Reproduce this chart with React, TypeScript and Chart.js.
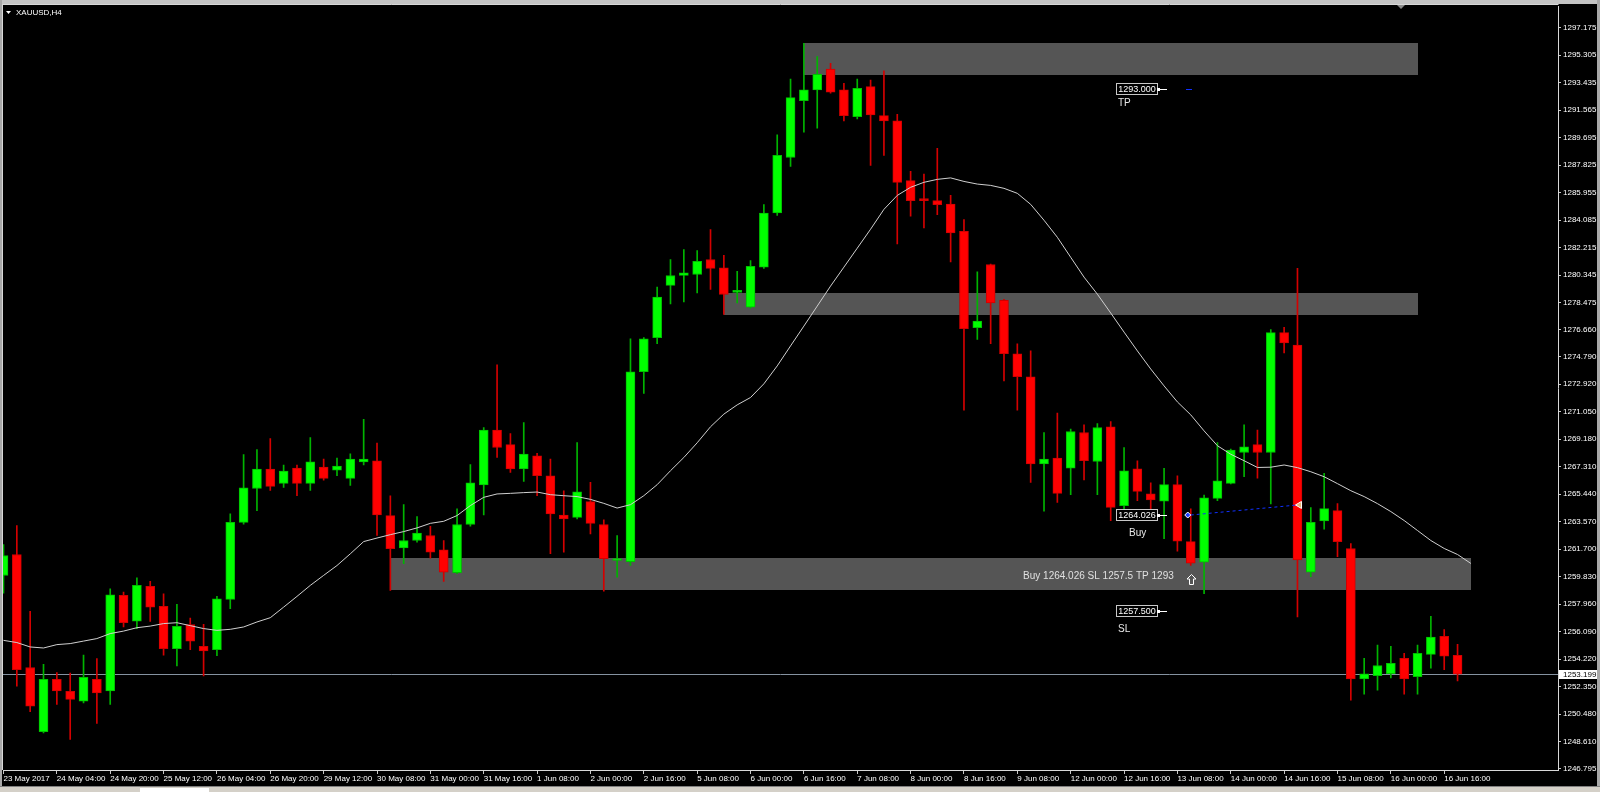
import React, { useEffect, useRef } from "react";
import { Chart, registerables } from "chart.js";

Chart.register(...registerables);

const TITLE = "XAUUSD,H4";

const OPEN = [1259.91,1261.34,1253.65,1249.28,1252.84,1252.04,1251.36,1252.84,1252.06,1258.56,
1256.81,1259.17,1257.81,1254.94,1256.57,1255.10,1254.87,1258.29,1263.53,1265.83,
1267.15,1266.18,1267.22,1266.18,1267.29,1267.08,1266.52,1267.64,1267.72,1263.99,
1261.79,1262.29,1262.63,1261.66,1260.10,1263.38,1266.07,1269.80,1268.81,1267.16,
1268.06,1266.70,1264.03,1263.87,1264.94,1263.38,1260.93,1260.86,1273.78,1276.09,
1279.65,1280.32,1280.39,1281.41,1280.84,1279.17,1278.17,1280.89,1284.57,1288.35,
1292.22,1292.95,1294.37,1292.95,1291.13,1293.17,1291.20,1290.84,1286.77,1285.48,
1285.41,1285.18,1283.33,1276.77,1281.07,1278.63,1275.00,1273.42,1267.50,1267.90,
1267.22,1269.64,1267.67,1270.03,1264.67,1267.16,1265.46,1264.96,1266.09,1262.22,
1260.82,1265.16,1266.18,1268.28,1268.81,1268.28,1276.43,1275.59,1260.14,1263.62,
1264.33,1261.75,1252.88,1253.09,1253.23,1254.28,1253.03,1254.55,1255.78,1254.48];

const HIGH = [1262.02,1263.31,1257.47,1253.87,1253.31,1253.28,1254.49,1254.26,1259.01,1258.78,
1259.76,1259.51,1258.67,1257.95,1257.02,1256.59,1258.49,1264.10,1268.13,1268.47,
1269.23,1267.43,1267.43,1269.30,1267.84,1267.90,1268.19,1270.54,1268.92,1265.34,
1264.73,1263.92,1263.26,1262.29,1264.44,1267.45,1269.98,1274.24,1269.57,1270.32,
1268.22,1267.83,1265.68,1268.96,1266.25,1263.70,1262.63,1276.02,1276.10,1279.53,
1281.41,1282.09,1282.02,1283.45,1281.70,1280.61,1281.34,1285.14,1289.89,1293.69,
1296.11,1295.21,1294.75,1293.39,1293.69,1293.62,1294.24,1291.29,1287.40,1287.22,
1288.98,1285.77,1284.12,1280.57,1281.10,1278.70,1275.68,1275.19,1269.64,1270.96,
1269.87,1270.16,1270.25,1270.39,1268.62,1267.72,1266.21,1267.20,1266.70,1264.44,
1265.39,1268.96,1268.52,1270.16,1269.80,1276.64,1276.80,1280.80,1264.53,1266.87,
1264.80,1262.09,1254.28,1255.17,1255.10,1254.62,1255.17,1257.13,1256.23,1255.23];

const LOW = [1258.71,1252.38,1250.64,1249.20,1251.14,1248.76,1251.24,1249.85,1251.14,1256.41,
1256.30,1256.79,1254.49,1253.76,1254.87,1253.08,1254.45,1257.65,1263.40,1264.33,
1265.70,1265.90,1265.35,1265.70,1266.39,1266.70,1266.04,1267.43,1262.63,1258.90,
1260.71,1262.18,1261.09,1259.51,1260.03,1263.26,1264.03,1267.94,1266.93,1266.31,
1265.34,1261.39,1261.50,1263.76,1262.74,1258.85,1259.80,1260.59,1272.29,1275.68,
1278.39,1278.53,1279.14,1279.37,1277.68,1278.46,1278.10,1280.80,1284.41,1287.74,
1290.07,1290.34,1292.72,1290.84,1290.98,1287.81,1288.49,1282.47,1284.35,1283.55,
1284.46,1281.25,1271.16,1275.98,1275.68,1273.15,1271.16,1266.25,1264.28,1264.89,
1265.41,1266.41,1265.41,1263.65,1263.65,1265.00,1264.33,1262.41,1261.56,1260.59,
1258.67,1265.00,1266.14,1266.63,1266.54,1264.78,1275.05,1257.09,1259.84,1263.06,
1261.20,1251.43,1251.84,1252.11,1252.95,1251.84,1251.84,1253.60,1253.51,1252.74];

const CLOSE = [1261.27,1253.51,1251.03,1252.84,1252.06,1251.48,1252.99,1251.93,1258.60,1256.70,
1259.24,1257.76,1254.94,1256.45,1255.45,1254.78,1258.33,1263.53,1265.87,1267.15,
1265.97,1267.01,1266.18,1267.64,1266.52,1267.36,1267.84,1267.84,1264.03,1261.73,
1262.29,1262.79,1261.50,1260.14,1263.38,1266.21,1269.80,1268.62,1267.16,1268.18,
1266.70,1264.10,1263.76,1265.61,1263.46,1261.05,1261.00,1273.76,1276.02,1278.85,
1280.32,1280.50,1281.29,1280.80,1279.03,1279.30,1280.95,1284.57,1288.49,1292.42,
1292.95,1294.01,1292.79,1291.20,1293.06,1291.25,1290.84,1286.66,1285.41,1285.41,
1285.14,1283.21,1276.70,1277.22,1278.46,1275.00,1273.44,1267.50,1267.83,1265.50,
1269.71,1267.72,1269.98,1264.55,1267.04,1265.64,1265.05,1266.09,1262.24,1260.75,
1265.19,1266.36,1268.45,1268.67,1268.28,1276.43,1275.74,1260.98,1263.53,1264.46,
1262.22,1252.88,1253.23,1253.79,1253.94,1252.88,1254.62,1255.73,1254.42,1253.20];

const MA = [1255.50,1255.35,1255.05,1254.98,1255.21,1255.28,1255.45,1255.62,1255.96,1256.13,
1256.36,1256.47,1256.64,1256.70,1256.50,1256.30,1256.18,1256.25,1256.41,1256.75,
1257.04,1257.76,1258.49,1259.24,1259.92,1260.59,1261.39,1262.22,1262.46,1262.69,
1262.90,1263.15,1263.46,1263.60,1263.99,1264.67,1265.23,1265.46,1265.50,1265.55,
1265.59,1265.41,1265.34,1265.28,1265.09,1264.82,1264.50,1264.73,1265.34,1266.09,
1267.04,1267.94,1268.94,1270.03,1270.89,1271.52,1272.02,1272.95,1274.17,1275.53,
1276.88,1278.24,1279.60,1280.89,1282.18,1283.47,1284.82,1285.77,1286.32,1286.66,
1286.86,1286.96,1286.72,1286.54,1286.45,1286.25,1285.91,1285.16,1284.08,1282.92,
1281.56,1280.21,1279.05,1277.77,1276.47,1275.19,1273.96,1272.81,1271.72,1270.84,
1269.75,1268.74,1268.16,1267.72,1267.26,1267.28,1267.43,1267.25,1266.97,1266.63,
1266.16,1265.68,1265.28,1264.80,1264.26,1263.65,1262.97,1262.29,1261.75,1261.34,
1260.73];

// one label every 4 H4 bars, starting at bar 0
const X_LABELS = ["23 May 2017","24 May 04:00","24 May 20:00","25 May 12:00","26 May 04:00","26 May 20:00",
"29 May 12:00","30 May 08:00","31 May 00:00","31 May 16:00","1 Jun 08:00","2 Jun 00:00","2 Jun 16:00",
"5 Jun 08:00","6 Jun 00:00","6 Jun 16:00","7 Jun 08:00","8 Jun 00:00","8 Jun 16:00","9 Jun 08:00",
"12 Jun 00:00","12 Jun 16:00","13 Jun 08:00","14 Jun 00:00","14 Jun 16:00","15 Jun 08:00","16 Jun 00:00","16 Jun 16:00"];

const Y_TICKS = [1297.175,1295.305,1293.435,1291.565,1289.695,1287.825,1285.955,1284.085,1282.215,1280.345,
1278.475,1276.660,1274.790,1272.920,1271.050,1269.180,1267.310,1265.440,1263.570,1261.700,
1259.830,1257.960,1256.090,1254.220,1252.350,1250.480,1248.610,1246.795];

const Y_MIN = 1246.68;
const Y_MAX = 1298.60;
const X_MIN = -0.037;
const X_MAX = 116.53;

const BID = 1253.199;

// supply / demand zones (bar index from/to, price top/bottom)
const ZONE_FROM = [60, 54, 29];
const ZONE_TO = [106, 106, 110];
const ZONE_TOP = [1296.11, 1279.10, 1261.11];
const ZONE_BOTTOM = [1293.96, 1277.61, 1258.94];

// order
const ORDER_OPEN_BAR = 89;
const ORDER_OPEN_PRICE = 1264.026;
const ORDER_CLOSE_BAR = 97;
const ORDER_CLOSE_PRICE = 1264.71;
const ORDER_SL = 1257.5;
const ORDER_TP = 1293.0;
const ORDER_TEXT = "Buy 1264.026 SL 1257.5 TP 1293";
const ORDER_TEXT_PRICE = 1259.85;
const ORDER_ARROW_PRICE = 1259.64;

const FONT = '"Liberation Sans", Arial, sans-serif';
const BODY_UP = "#00ff00";
const BORDER_UP = "#00c000";
const WICK_UP = "#00b400";
const BODY_DN = "#ff0000";
const BORDER_DN = "#d00000";
const WICK_DN = "#d40000";

export default function App() {
  const ref = useRef<HTMLCanvasElement>(null);

  useEffect(() => {
    const canvas = ref.current!;
    const wickUp: any[] = [];
    const wickDn: any[] = [];
    const bodyUp: any[] = [];
    const bodyDn: any[] = [];
    OPEN.forEach((o, i) => {
      const w = { x: i, y: [LOW[i], HIGH[i]] };
      const b = { x: i, y: [o, CLOSE[i]] };
      if (CLOSE[i] >= o) { wickUp.push(w); bodyUp.push(b); }
      else { wickDn.push(w); bodyDn.push(b); }
    });
    const maData = MA.map((v, i) => ({ x: i, y: v }));
    const trade = [
      { x: ORDER_OPEN_BAR, y: ORDER_OPEN_PRICE },
      { x: ORDER_CLOSE_BAR, y: ORDER_CLOSE_PRICE },
    ];

    const deco = {
      id: "mt4deco",
      beforeDraw(chart: any) {
        const ctx = chart.ctx;
        ctx.save();
        ctx.fillStyle = "#000";
        ctx.fillRect(0, 0, chart.width, chart.height);
        ctx.restore();
      },
      beforeDatasetsDraw(chart: any) {
        const ctx = chart.ctx;
        const xs = chart.scales.x, ys = chart.scales.y;
        const a = chart.chartArea;
        ctx.save();
        ctx.beginPath();
        ctx.rect(a.left, a.top, a.right - a.left, a.bottom - a.top);
        ctx.clip();
        ctx.fillStyle = "#555555";
        for (let k = 0; k < ZONE_FROM.length; k++) {
          const x1 = Math.round(xs.getPixelForValue(ZONE_FROM[k]));
          const x2 = Math.round(xs.getPixelForValue(ZONE_TO[k]));
          const y1 = Math.round(ys.getPixelForValue(ZONE_TOP[k]));
          const y2 = Math.round(ys.getPixelForValue(ZONE_BOTTOM[k]));
          ctx.fillRect(x1, y1, x2 - x1, y2 - y1);
        }
        const by = Math.round(ys.getPixelForValue(BID)) + 0.5;
        ctx.strokeStyle = "#8592a0";
        ctx.lineWidth = 1;
        ctx.beginPath();
        ctx.moveTo(a.left, by);
        ctx.lineTo(a.right, by);
        ctx.stroke();
        ctx.restore();
      },
      afterDatasetsDraw(chart: any) {
        const ctx = chart.ctx;
        const xs = chart.scales.x, ys = chart.scales.y;
        const xo = xs.getPixelForValue(ORDER_OPEN_BAR);
        ctx.save();
        const box = (price: number, caption: string, capDx: number, capDy: number) => {
          const y = Math.round(ys.getPixelForValue(price));
          const right = Math.round(xo - 34);
          const left = right - 41;
          ctx.fillStyle = "#000";
          ctx.fillRect(left, y - 5, 41, 11);
          ctx.strokeStyle = "#c8c8c8";
          ctx.lineWidth = 1;
          ctx.strokeRect(left + 0.5, y - 5.5, 41, 11);
          ctx.fillStyle = "#ffffff";
          ctx.font = `9px ${FONT}`;
          ctx.textAlign = "center";
          ctx.textBaseline = "middle";
          ctx.fillText(price.toFixed(3), left + 21, y + 0.5);
          ctx.fillRect(right, y - 1, 3, 3);
          ctx.fillRect(right + 2, y, 8, 1);
          ctx.fillStyle = "#e8e8e8";
          ctx.font = `10px ${FONT}`;
          ctx.textAlign = "left";
          ctx.fillText(caption, left + capDx, y + capDy);
        };
        box(ORDER_TP, "TP", 2, 14.5);
        box(ORDER_OPEN_PRICE, "Buy", 13, 18);
        box(ORDER_SL, "SL", 2, 18.5);

        // TP marker dash
        const yTp = Math.round(ys.getPixelForValue(ORDER_TP));
        ctx.fillStyle = "#1030ff";
        ctx.fillRect(Math.round(xo) - 5, yTp, 6, 1);

        // open marker
        const yo = ys.getPixelForValue(ORDER_OPEN_PRICE);
        ctx.beginPath();
        ctx.moveTo(xo - 6, yo);
        ctx.lineTo(xo - 3, yo - 3);
        ctx.lineTo(xo, yo);
        ctx.lineTo(xo - 3, yo + 3);
        ctx.closePath();
        ctx.fillStyle = "#2040ff";
        ctx.fill();
        ctx.strokeStyle = "#ffffff";
        ctx.stroke();

        // close marker
        const xc = xs.getPixelForValue(ORDER_CLOSE_BAR);
        const yc = ys.getPixelForValue(ORDER_CLOSE_PRICE);
        ctx.beginPath();
        ctx.moveTo(xc - 2, yc);
        ctx.lineTo(xc + 4, yc - 3.5);
        ctx.lineTo(xc + 4, yc + 3.5);
        ctx.closePath();
        ctx.fillStyle = "#e8b070";
        ctx.fill();
        ctx.strokeStyle = "#ffffff";
        ctx.stroke();

        // comment text
        ctx.fillStyle = "#e0e0e0";
        ctx.font = `10px ${FONT}`;
        ctx.textAlign = "right";
        ctx.textBaseline = "middle";
        ctx.fillText(ORDER_TEXT, xo - 17, ys.getPixelForValue(ORDER_TEXT_PRICE), 153);

        // hollow up arrow
        const ax = Math.round(xo) + 0.5;
        const ay = Math.round(ys.getPixelForValue(ORDER_ARROW_PRICE)) + 0.5;
        ctx.beginPath();
        ctx.moveTo(ax, ay - 5);
        ctx.lineTo(ax + 4.5, ay - 0.5);
        ctx.lineTo(ax + 2, ay - 0.5);
        ctx.lineTo(ax + 2, ay + 5);
        ctx.lineTo(ax - 2, ay + 5);
        ctx.lineTo(ax - 2, ay - 0.5);
        ctx.lineTo(ax - 4.5, ay - 0.5);
        ctx.closePath();
        ctx.strokeStyle = "#ffffff";
        ctx.lineWidth = 1;
        ctx.stroke();
        ctx.restore();
      },
      afterDraw(chart: any) {
        const ctx = chart.ctx;
        const ys = chart.scales.y;
        const a = chart.chartArea;
        const W = chart.width, H = chart.height;
        ctx.save();
        // window frame
        ctx.fillStyle = "#c4c4c4";
        ctx.fillRect(0, 0, W, 4);
        ctx.fillStyle = "#a8a8a8";
        ctx.fillRect(0, 0, 2, H);
        ctx.fillRect(W - 3, 0, 3, H);
        ctx.fillStyle = "#d4d0c8";
        ctx.fillRect(0, 786, W, H - 786);
        ctx.fillStyle = "#ffffff";
        ctx.fillRect(140, 788, 69, H - 788);
        ctx.fillStyle = "#808080";
        ctx.fillRect(0, 786, W, 1);
        // plot border top / left
        ctx.strokeStyle = "#d8d8d8";
        ctx.lineWidth = 1;
        ctx.beginPath();
        ctx.moveTo(2, 4.5);
        ctx.lineTo(a.right + 0.5, 4.5);
        ctx.moveTo(2.5, 4);
        ctx.lineTo(2.5, a.bottom);
        ctx.stroke();
        // shift marker
        ctx.fillStyle = "#8a8a8a";
        ctx.beginPath();
        ctx.moveTo(1397, 5);
        ctx.lineTo(1405, 5);
        ctx.lineTo(1401, 9);
        ctx.closePath();
        ctx.fill();
        // title
        ctx.fillStyle = "#ffffff";
        ctx.beginPath();
        ctx.moveTo(6, 11);
        ctx.lineTo(11, 11);
        ctx.lineTo(8.5, 14);
        ctx.closePath();
        ctx.fill();
        ctx.font = `8px ${FONT}`;
        ctx.textAlign = "left";
        ctx.textBaseline = "middle";
        ctx.fillText(TITLE, 16, 12.5);
        // bid label
        const by = Math.round(ys.getPixelForValue(BID));
        ctx.fillStyle = "#ffffff";
        ctx.fillRect(a.right + 1, by - 4, W - a.right - 4, 9);
        ctx.fillStyle = "#000000";
        ctx.fillText(BID.toFixed(3), a.right + 5, by + 0.5);
        ctx.restore();
      },
    };

    const tickFont = { family: FONT, size: 8 };

    const chart = new Chart(canvas, {
      type: "bar",
      data: {
        datasets: [
          { type: "bar", data: wickUp, backgroundColor: WICK_UP, barThickness: 1, grouped: false, order: 5 } as any,
          { type: "bar", data: wickDn, backgroundColor: WICK_DN, barThickness: 1, grouped: false, order: 5 } as any,
          { type: "bar", data: bodyUp, backgroundColor: BODY_UP, borderColor: BORDER_UP, borderWidth: 1, borderSkipped: false, barThickness: 9, minBarLength: 2, grouped: false, order: 3 } as any,
          { type: "bar", data: bodyDn, backgroundColor: BODY_DN, borderColor: BORDER_DN, borderWidth: 1, borderSkipped: false, barThickness: 9, minBarLength: 2, grouped: false, order: 3 } as any,
          { type: "line", data: maData, borderColor: "#cfcfcf", borderWidth: 1, pointRadius: 0, tension: 0, order: 1 } as any,
          { type: "line", data: trade, borderColor: "#1030ff", borderWidth: 1, borderDash: [3, 3], pointRadius: 0, tension: 0, order: 0 } as any,
        ],
      },
      options: {
        animation: false,
        responsive: false,
        devicePixelRatio: 1,
        layout: { padding: { left: 3, top: 5, right: 0, bottom: 0 } },
        plugins: { legend: { display: false }, tooltip: { enabled: false } },
        scales: {
          x: {
            type: "linear",
            min: X_MIN,
            max: X_MAX,
            offset: false,
            afterBuildTicks: (s: any) => { s.ticks = X_LABELS.map((_, k) => ({ value: k * 4 })); },
            afterFit: (s: any) => { s.height = 22; },
            ticks: {
              autoSkip: false, maxRotation: 0, minRotation: 0, align: "start", padding: 0,
              color: "#ffffff", font: tickFont,
              callback: (v: any) => X_LABELS[Math.round(Number(v) / 4)] ?? "",
            },
            grid: { display: true, drawOnChartArea: false, drawTicks: true, tickLength: 4, tickColor: "#c8c8c8", offset: false },
            border: { display: true, color: "#d8d8d8", width: 1 },
          },
          y: {
            type: "linear",
            position: "right",
            min: Y_MIN,
            max: Y_MAX,
            afterBuildTicks: (s: any) => { s.ticks = Y_TICKS.map((v) => ({ value: v })); },
            afterFit: (s: any) => { s.width = 42; },
            ticks: {
              autoSkip: false, padding: 2, color: "#ffffff", font: tickFont,
              callback: (v: any) => Number(v).toFixed(3),
            },
            grid: { display: true, drawOnChartArea: false, drawTicks: true, tickLength: 3, tickColor: "#c8c8c8" },
            border: { display: true, color: "#d8d8d8", width: 1 },
          },
        },
      } as any,
      plugins: [deco],
    });
    return () => chart.destroy();
  }, []);

  return (
    <div style={{ position: "fixed", left: 0, top: 0, width: 1600, height: 792, background: "#000" }}>
      <canvas ref={ref} width={1600} height={792} style={{ display: "block", width: 1600, height: 792 }} />
    </div>
  );
}
